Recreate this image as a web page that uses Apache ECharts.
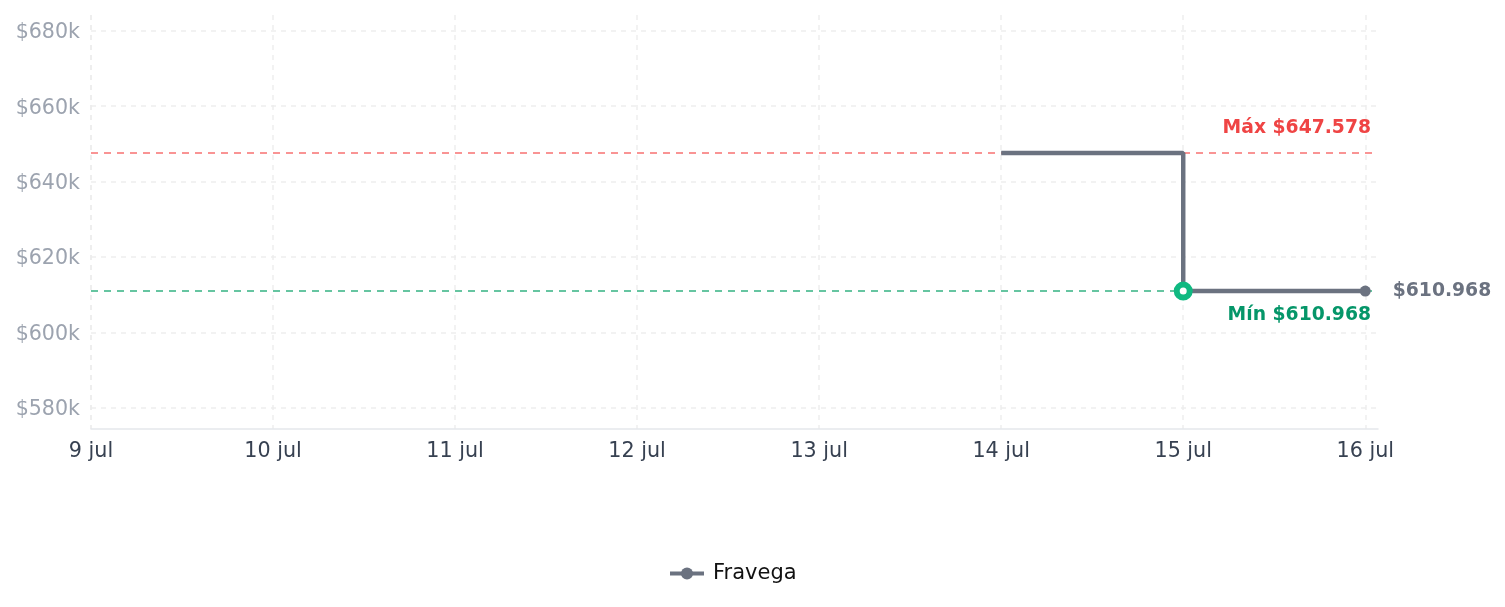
<!DOCTYPE html>
<html><head><meta charset="utf-8">
<script src="https://cdn.jsdelivr.net/npm/echarts@6/dist/echarts.min.js"></script>
<style>html,body{margin:0;padding:0;background:#fff}#c{width:1505px;height:607px}</style>
</head><body><div id="c"></div>
<script>
const seriesName = 'Fravega';
const dates = ['2025-07-14', '2025-07-15', '2025-07-16'];
const prices = [647578, 610968, 610968];
const axisStart = '2025-07-09';
const axisEnd = '2025-07-16';
const maxLabel = 'Máx $647.578';
const minLabel = 'Mín $610.968';
const lastLabel = '$610.968';

function d(s){const p=s.split('-').map(Number);return new Date(p[0],p[1]-1,p[2]).getTime();}
const DAY = 86400000;
const data = dates.map((s,i)=>[d(s), prices[i]]);
const maxV = Math.max(...prices), minV = Math.min(...prices);
const F = 'DejaVu Sans';

const chart = echarts.init(document.getElementById('c'));
chart.setOption({
  animation:false,
  textStyle:{fontFamily:F},
  grid:{left:91,right:127,top:15,bottom:178,containLabel:false},
  legend:{bottom:23,left:668,padding:0,itemWidth:34,itemHeight:15,itemGap:10,
    lineStyle:{width:4},
    textStyle:{fontSize:21,color:'#111',fontFamily:F,padding:[0,0,0,4]},data:[seriesName]},
  xAxis:{type:'time',min:d(axisStart),max:d(axisEnd)+DAY*0.07,interval:DAY,
    axisLine:{lineStyle:{color:'#e5e7eb',width:1.5}},axisTick:{show:false},
    axisLabel:{fontSize:20.7,color:'#374151',margin:12,fontFamily:F,showMaxLabel:false,
      formatter:function(v){const dt=new Date(v);return dt.getDate()+' jul';}},
    splitLine:{show:true,showMaxLine:false,lineStyle:{color:'#eeeeee',type:[5,5],width:1.5}}},
  yAxis:{type:'value',min:574400,max:684200,splitNumber:5,
    axisLine:{show:false},axisTick:{show:false},
    axisLabel:{fontSize:20.6,color:'#9ca3af',margin:11,fontFamily:F,showMinLabel:false,showMaxLabel:false,
      rich:{a:{fontSize:20.6,color:'#9ca3af',fontFamily:F,padding:[4,0,0,0]}},
      formatter:function(v){return '{a|$'+Math.round(v/1000)+'k}';}},
    splitLine:{show:true,showMinLine:false,showMaxLine:false,lineStyle:{color:'#eeeeee',type:[5,5],width:1.5}}},
  series:[{
    name:seriesName,type:'line',step:'end',data:data,z:5,
    lineStyle:{color:'#6b7280',width:4.5},
    itemStyle:{color:'#6b7280'},
    symbol:'circle',
    symbolSize:function(v,p){return p.dataIndex===data.length-1?11:0;},
    label:{show:true,position:'right',distance:22,fontSize:18.75,fontWeight:'bold',color:'#6b7280',fontFamily:F,
      formatter:function(p){return p.dataIndex===data.length-1?lastLabel:'';}},
    markPoint:{symbol:'circle',symbolSize:13,z:10,
      itemStyle:{color:'#ffffff',borderColor:'#10b981',borderWidth:6},
      label:{show:false},
      data:[{coord:[data[1][0],minV]}]},
    markLine:{symbol:'none',silent:true,z:1,
      data:[
        {yAxis:maxV,lineStyle:{color:'#f87171',type:[7,6],width:1.5},
          label:{formatter:maxLabel,position:'insideEndTop',distance:[7,15],color:'#ef4444',fontSize:18.75,fontWeight:'bold',fontFamily:F}},
        {yAxis:minV,lineStyle:{color:'#34b383',type:[7,6],width:1.5},
          label:{formatter:minLabel,position:'insideEndBottom',distance:[7,15],color:'#059669',fontSize:18.75,fontWeight:'bold',fontFamily:F}}
      ]}
  }]
});
</script></body></html>
